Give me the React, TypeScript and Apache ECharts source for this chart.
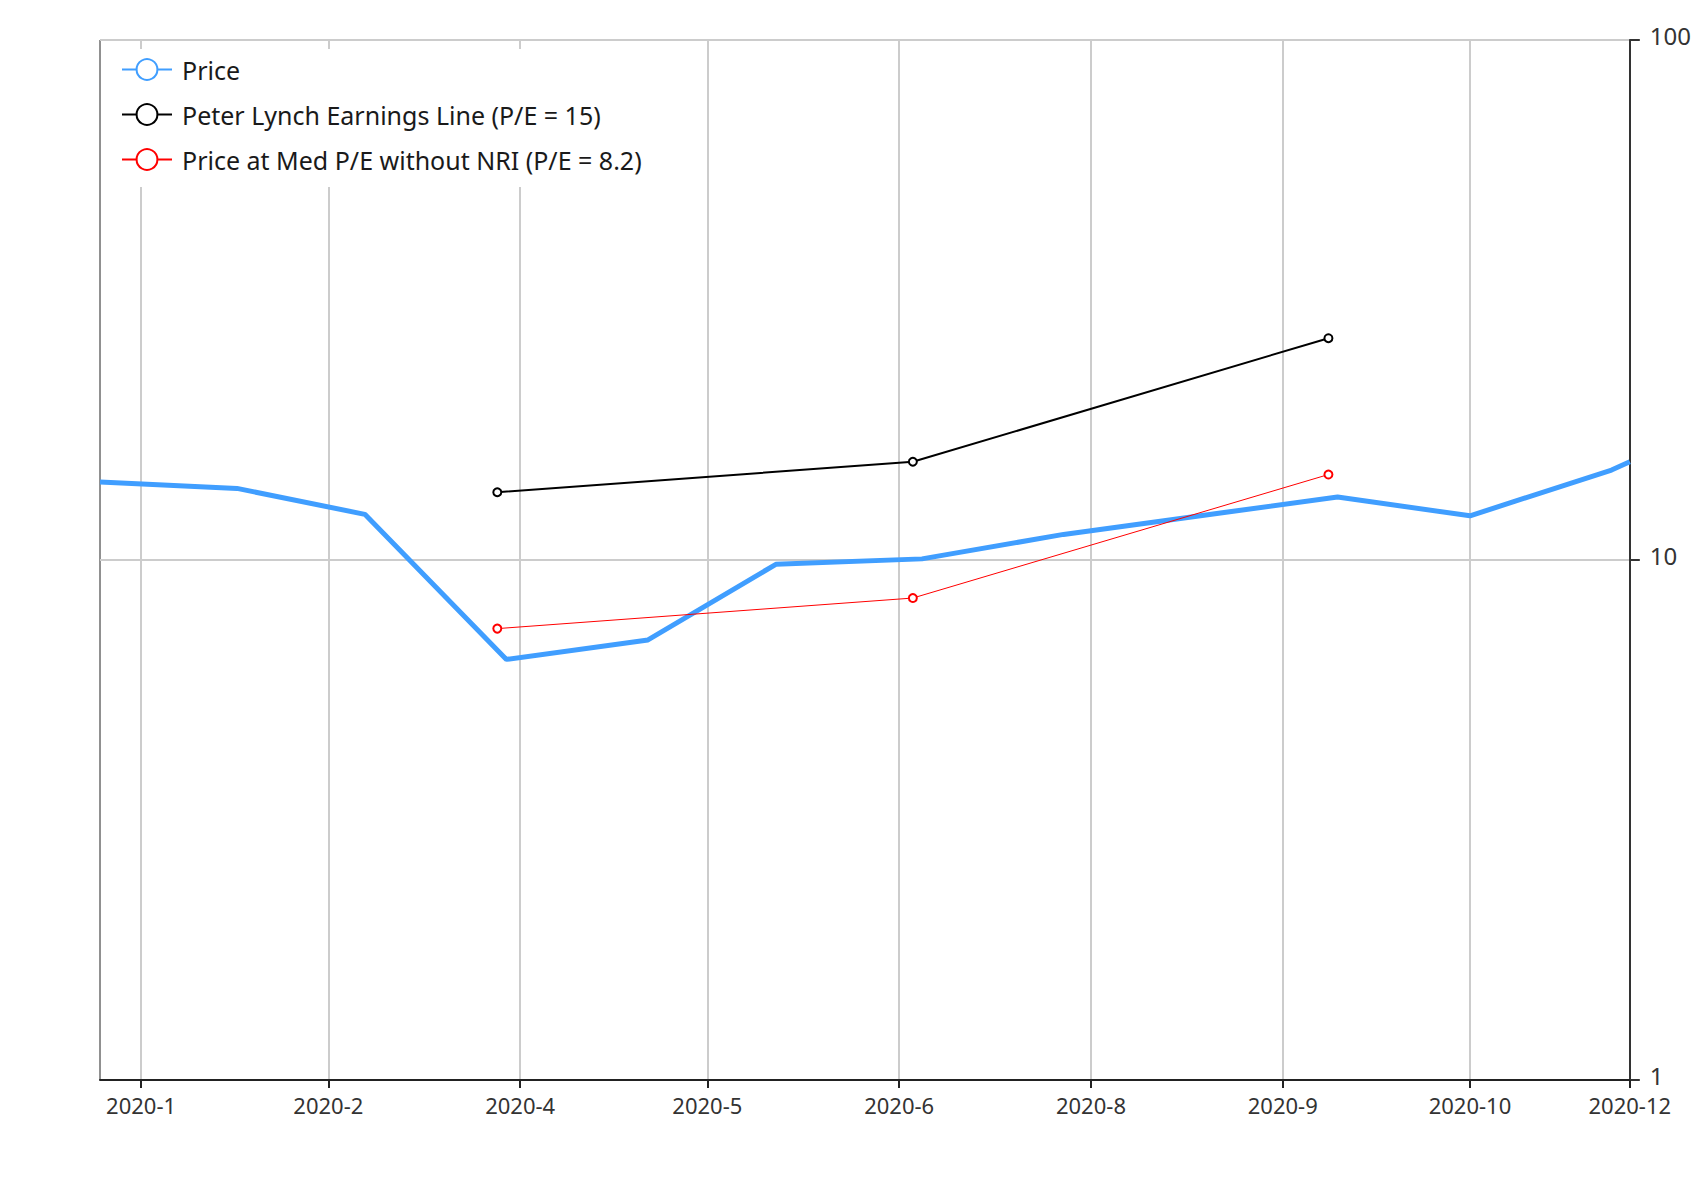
import React, { useEffect, useRef } from "react";
import * as echarts from "echarts";

// ---- data ----
const PRICE_DATES = [
  "2020-01-04", "2020-02-03", "2020-03-02", "2020-04-02", "2020-05-03", "2020-05-31",
  "2020-07-02", "2020-08-02", "2020-10-01", "2020-10-30", "2020-11-30", "2020-12-04",
];
const PRICE_VALUES = [14.12, 13.73, 12.24, 6.44, 7.02, 9.81, 10.05, 11.2, 13.22, 12.16, 14.89, 15.45];

const EARNINGS_DATES = ["2020-03-31", "2020-06-30", "2020-09-29"];
const LYNCH_VALUES = [13.5, 15.45, 26.7];
const MED_PE_VALUES = [7.38, 8.45, 14.6];

const X_TICK_DATES = [
  "2020-01-13", "2020-02-23", "2020-04-05", "2020-05-16", "2020-06-27",
  "2020-08-08", "2020-09-19", "2020-10-30", "2020-12-04",
];
const X_MIN = "2020-01-04";
const X_MAX = "2020-12-04";
const Y_MIN = 1;
const Y_MAX = 100;

const SERIES_NAMES = [
  "Price",
  "Peter Lynch Earnings Line (P/E = 15)",
  "Price at Med P/E without NRI (P/E = 8.2)",
];

const FONT = "'Noto Sans', 'Open Sans', sans-serif";

const ts = (s: string) => new Date(s + "T00:00:00").getTime();
const zip = (a: string[], b: number[]) => a.map((d, i) => [ts(d), b[i]]);

export default function App() {
  const ref = useRef<HTMLDivElement>(null);

  useEffect(() => {
    if (!ref.current) return;
    const chart = echarts.init(ref.current, undefined, { renderer: "svg" });
    const tickValues = X_TICK_DATES.map(ts);
    const option: any = {
      animation: false,
      backgroundColor: "#fff",
      textStyle: { fontFamily: FONT },
      grid: {
        left: 100,
        right: 60,
        top: 40,
        bottom: 120,
        show: true,
        borderColor: "#222",
        borderWidth: 1,
        containLabel: false,
      },
      legend: {
        orient: "vertical",
        left: 111,
        top: 49,
        padding: [8, 12, 15, 10],
        backgroundColor: "#fff",
        itemWidth: 50,
        itemHeight: 26,
        itemGap: 20,
        lineStyle: { width: 2 },
        textStyle: { fontSize: 25, color: "#1a1a1a", fontFamily: FONT, padding: [0, 0, 0, 5] },
        data: SERIES_NAMES,
      },
      xAxis: {
        type: "value",
        min: ts(X_MIN),
        max: ts(X_MAX),
        axisLine: { show: true, lineStyle: { color: "#222", width: 2 } },
        axisTick: {
          show: true,
          length: 8,
          customValues: tickValues,
          lineStyle: { color: "#222", width: 2 },
        },
        axisLabel: {
          customValues: tickValues,
          color: "#333",
          fontSize: 22,
          fontFamily: FONT,
          margin: 14,
          hideOverlap: false,
          formatter: (v: number) => {
            const d = new Date(v);
            return `${d.getFullYear()}-${d.getMonth() + 1}`;
          },
        },
        splitLine: { show: true, lineStyle: { color: "#cccccc", width: 2 } },
      },
      yAxis: {
        type: "log",
        logBase: 10,
        min: Y_MIN,
        max: Y_MAX,
        position: "right",
        axisLine: { show: true, lineStyle: { color: "#333", width: 2 } },
        axisTick: { show: true, length: 10, lineStyle: { color: "#333", width: 2 } },
        axisLabel: {
          color: "#333",
          fontSize: 24,
          fontFamily: FONT,
          margin: 20,
          verticalAlign: "bottom",
          lineHeight: 10,
        },
        splitLine: { show: true, lineStyle: { color: "#cccccc", width: 2 } },
      },
      series: [
        {
          name: SERIES_NAMES[0],
          type: "line",
          data: zip(PRICE_DATES, PRICE_VALUES),
          symbol: "emptyCircle",
          showSymbol: false,
          lineStyle: { width: 5, color: "#409eff" },
          itemStyle: { color: "#409eff" },
        },
        {
          name: SERIES_NAMES[1],
          type: "line",
          data: zip(EARNINGS_DATES, LYNCH_VALUES),
          symbol: "emptyCircle",
          symbolSize: 8,
          lineStyle: { width: 2, color: "#000" },
          itemStyle: { color: "#000", borderWidth: 2 },
        },
        {
          name: SERIES_NAMES[2],
          type: "line",
          data: zip(EARNINGS_DATES, MED_PE_VALUES),
          symbol: "emptyCircle",
          symbolSize: 8,
          lineStyle: { width: 1, color: "#ff0000" },
          itemStyle: { color: "#ff0000", borderWidth: 2 },
        },
      ],
    };
    chart.setOption(option);
    return () => chart.dispose();
  }, []);

  return (
    <div
      ref={ref}
      style={{ position: "absolute", left: 0, top: 0, width: 1694, height: 1200 }}
    />
  );
}
